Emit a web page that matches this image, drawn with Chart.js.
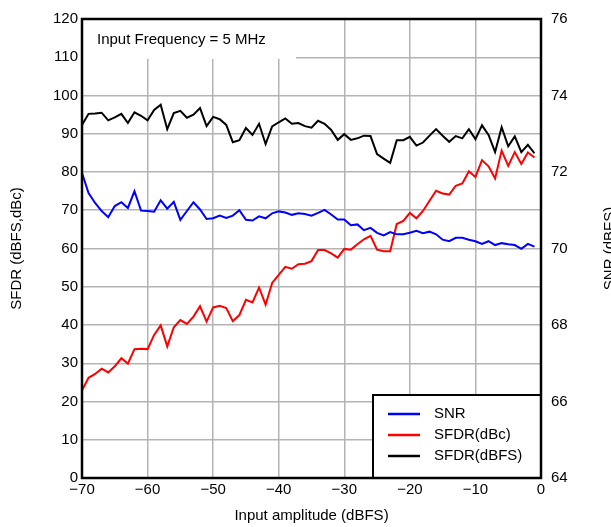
<!DOCTYPE html>
<html>
<head>
<meta charset="utf-8">
<script src="https://cdn.jsdelivr.net/npm/chart.js@4.4.0/dist/chart.umd.min.js"></script>
<style>
  html, body { margin: 0; padding: 0; background: #fff; }
  #wrap { width: 611px; height: 527px; position: relative; }
</style>
</head>
<body>
<div id="wrap"><canvas id="chart" width="611" height="527"></canvas></div>
<script>
// input amplitude (dBFS)
const amplitude = [-70, -69, -68, -67, -66, -65, -64, -63, -62, -61,
  -60, -59, -58, -57, -56, -55, -54, -53, -52, -51,
  -50, -49, -48, -47, -46, -45, -44, -43, -42, -41,
  -40, -39, -38, -37, -36, -35, -34, -33, -32, -31,
  -30, -29, -28, -27, -26, -25, -24, -23, -22, -21,
  -20, -19, -18, -17, -16, -15, -14, -13, -12, -11,
  -10, -9, -8, -7, -6, -5, -4, -3, -2, -1];

// SNR (dBFS) - right axis
const snr = [71.97, 71.45, 71.19, 70.98, 70.82, 71.11, 71.21, 71.06, 71.50, 70.99,
  70.98, 70.96, 71.26, 71.04, 71.22, 70.75, 70.98, 71.21, 71.02, 70.77,
  70.79, 70.86, 70.80, 70.86, 71.00, 70.75, 70.73, 70.84, 70.79, 70.92,
  70.97, 70.94, 70.88, 70.92, 70.90, 70.86, 70.93, 71.01, 70.89, 70.76,
  70.76, 70.61, 70.63, 70.48, 70.54, 70.41, 70.34, 70.43, 70.37, 70.37,
  70.41, 70.46, 70.40, 70.44, 70.37, 70.23, 70.19, 70.28, 70.28, 70.23,
  70.19, 70.12, 70.19, 70.09, 70.14, 70.11, 70.09, 69.99, 70.12, 70.05];

// SFDR (dBc) - left axis
const sfdrDbc = [22.9, 26.2, 27.2, 28.6, 27.6, 29.2, 31.3, 29.9, 33.7, 33.8,
  33.7, 37.4, 39.9, 34.4, 39.4, 41.3, 40.3, 42.2, 44.9, 40.9,
  44.6, 45.0, 44.4, 41.0, 42.6, 46.6, 45.9, 49.8, 45.3, 51.0,
  53.1, 55.2, 54.7, 55.9, 56.0, 56.7, 59.6, 59.6, 58.7, 57.6,
  59.9, 59.7, 61.1, 62.4, 63.3, 59.7, 59.3, 59.3, 66.4, 67.2,
  69.3, 67.9, 69.8, 72.5, 75.1, 74.4, 74.1, 76.4, 77.0, 80.2,
  78.7, 83.1, 81.5, 78.3, 85.6, 81.6, 85.2, 82.1, 85.1, 83.8];

// SFDR (dBFS) - left axis
const sfdrDbfs = [92.3, 95.2, 95.3, 95.5, 93.5, 94.3, 95.2, 92.8, 95.6, 94.7,
  93.5, 96.2, 97.6, 91.2, 95.4, 96.0, 94.2, 95.0, 96.7, 92.0,
  94.4, 93.8, 92.3, 87.8, 88.3, 91.5, 89.7, 92.6, 87.3, 91.9,
  93.0, 94.0, 92.6, 92.8, 92.0, 91.6, 93.4, 92.6, 91.0, 88.4,
  89.9, 88.4, 88.8, 89.5, 89.4, 84.7, 83.5, 82.4, 88.3, 88.3,
  89.2, 86.9, 87.7, 89.5, 91.2, 89.5, 87.9, 89.4, 88.8, 91.2,
  88.6, 92.2, 89.7, 85.2, 91.7, 86.7, 89.3, 85.2, 87.1, 84.9];

const FONT = '"Liberation Sans", Arial, sans-serif';

const toPoints = (ys) => ys.map((y, i) => ({ x: amplitude[i], y: y }));

// white box with the test condition, top-left of the plot
const noteBox = {
  id: 'noteBox',
  beforeDatasetsDraw(chart) {
    const { ctx, chartArea: a } = chart;
    ctx.save();
    ctx.fillStyle = '#fff';
    ctx.fillRect(a.left, a.top, 214, 40);
    ctx.fillStyle = '#000';
    ctx.font = '15px ' + FONT;
    ctx.textBaseline = 'middle';
    ctx.fillText('Input Frequency = 5 MHz', a.left + 15, a.top + 21);
    ctx.restore();
  }
};

// frame, legend box and axis titles
const extras = {
  id: 'extras',
  afterDraw(chart) {
    const { ctx, chartArea: a } = chart;
    ctx.save();

    // legend box in bottom-right corner
    const lx = 373, ly = 395;
    ctx.fillStyle = '#fff';
    ctx.fillRect(lx, ly, a.right - lx, a.bottom - ly);
    ctx.strokeStyle = '#000';
    ctx.lineWidth = 2;
    ctx.strokeRect(lx, ly, a.right - lx, a.bottom - ly);
    ctx.font = '15px ' + FONT;
    ctx.textBaseline = 'middle';
    chart.data.datasets.forEach((ds, i) => {
      const y = 414 + i * 21;
      ctx.strokeStyle = ds.borderColor;
      ctx.lineWidth = 2.5;
      ctx.beginPath();
      ctx.moveTo(388, y);
      ctx.lineTo(420, y);
      ctx.stroke();
      ctx.fillStyle = '#000';
      ctx.fillText(ds.label, 434, y);
    });

    // plot frame
    ctx.strokeStyle = '#000';
    ctx.lineWidth = 2.5;
    ctx.strokeRect(a.left, a.top, a.right - a.left, a.bottom - a.top);

    // axis titles
    ctx.fillStyle = '#000';
    ctx.font = '15px ' + FONT;
    ctx.textAlign = 'center';
    ctx.textBaseline = 'middle';
    ctx.fillText('Input amplitude (dBFS)', (a.left + a.right) / 2, 516);

    const midY = (a.top + a.bottom) / 2;
    ctx.save();
    ctx.translate(17, midY);
    ctx.rotate(-Math.PI / 2);
    ctx.fillText('SFDR (dBFS,dBc)', 0, 0);
    ctx.restore();

    ctx.save();
    ctx.translate(610, midY);
    ctx.rotate(-Math.PI / 2);
    ctx.fillText('SNR (dBFS)', 0, 0);
    ctx.restore();

    ctx.restore();
  }
};

new Chart(document.getElementById('chart'), {
  type: 'line',
  data: {
    datasets: [
      {
        label: 'SNR',
        data: toPoints(snr),
        yAxisID: 'y1',
        borderColor: '#0000ff',
        borderWidth: 2,
        pointRadius: 0,
        tension: 0
      },
      {
        label: 'SFDR(dBc)',
        data: toPoints(sfdrDbc),
        yAxisID: 'y',
        borderColor: '#ff0000',
        borderWidth: 2,
        pointRadius: 0,
        tension: 0
      },
      {
        label: 'SFDR(dBFS)',
        data: toPoints(sfdrDbfs),
        yAxisID: 'y',
        borderColor: '#000000',
        borderWidth: 2,
        pointRadius: 0,
        tension: 0
      }
    ]
  },
  options: {
    responsive: false,
    animation: false,
    layout: { padding: { top: 17, left: 0, right: 0, bottom: 0 } },
    plugins: {
      legend: { display: false },
      tooltip: { enabled: false }
    },
    scales: {
      x: {
        type: 'linear',
        min: -70,
        max: 0,
        afterFit: (s) => { s.height = 49; },
        ticks: {
          stepSize: 10,
          padding: 3,
          color: '#000',
          font: { family: FONT, size: 15 },
          maxRotation: 0,
          callback: (v) => String(v).replace('-', '\u2212')
        },
        grid: { color: '#b4b4b4', lineWidth: 1.5, drawTicks: false },
        border: { display: false }
      },
      y: {
        position: 'left',
        min: 0,
        max: 120,
        afterFit: (s) => { s.width = 82; },
        ticks: {
          stepSize: 10,
          padding: 4,
          color: '#000',
          font: { family: FONT, size: 15 }
        },
        grid: { color: '#b4b4b4', lineWidth: 1.5, drawTicks: false },
        border: { display: false }
      },
      y1: {
        position: 'right',
        min: 64,
        max: 76,
        afterFit: (s) => { s.width = 70; },
        ticks: {
          stepSize: 2,
          padding: 10,
          color: '#000',
          font: { family: FONT, size: 15 }
        },
        grid: { display: false, drawTicks: false },
        border: { display: false }
      }
    }
  },
  plugins: [noteBox, extras]
});
</script>
</body>
</html>
